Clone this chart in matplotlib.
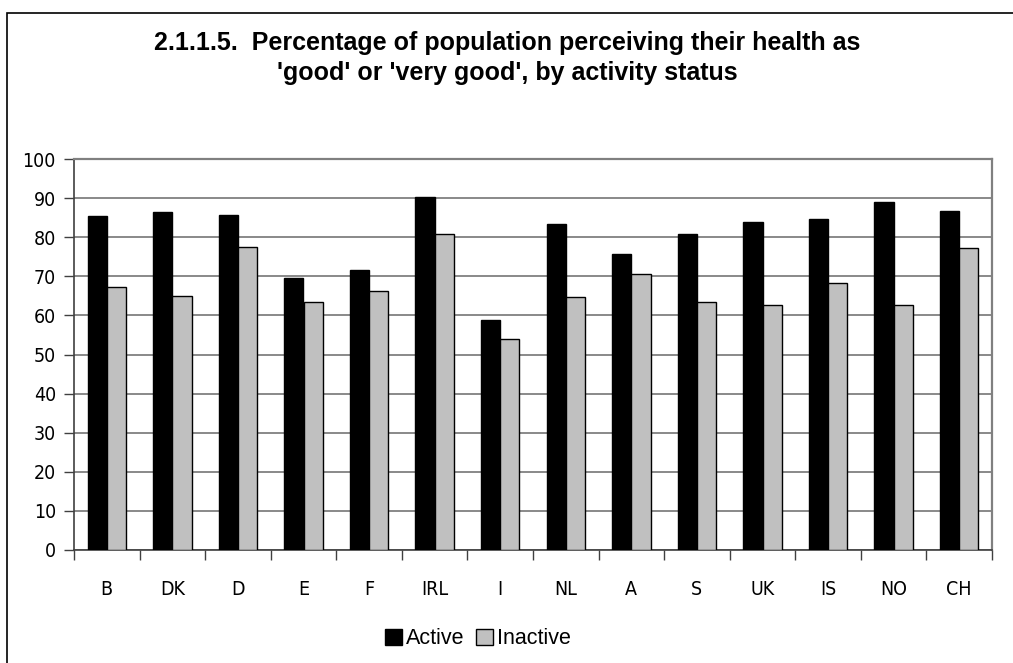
import matplotlib

matplotlib.use("Agg")
import matplotlib.pyplot as plt
import numpy as np
from matplotlib.patches import Rectangle

countries = ["B", "DK", "D", "E", "F", "IRL", "I", "NL", "A", "S", "UK", "IS", "NO", "CH"]
active = [85.4, 86.4, 85.7, 69.7, 71.7, 90.4, 58.8, 83.4, 75.8, 80.9, 84.0, 84.8, 89.1, 86.8]
inactive = [67.2, 65.0, 77.6, 63.5, 66.3, 80.9, 54.0, 64.8, 70.5, 63.4, 62.6, 68.2, 62.8, 77.4]
yticks = list(range(0, 101, 10))

W, H = 1013, 663
fig = plt.figure(figsize=(W / 100, H / 100), dpi=100)
fig.patch.set_facecolor("white")

# outer chart frame (right and bottom edges run off the canvas)
fig.patches.append(Rectangle((7 / W, -0.1), 1.2, (H - 13) / H + 0.1,
                             transform=fig.transFigure, fill=False,
                             edgecolor="black", linewidth=1.2))

ax = fig.add_axes([74 / W, (H - 549.7) / H, (992 - 74) / W, (549.7 - 159.3) / H])

x = np.arange(len(countries))
bw = 0.293
ax.bar(x - bw / 2, active, bw, color="black", edgecolor="black", linewidth=1.0,
       label="Active", zorder=3)
ax.bar(x + bw / 2, inactive, bw, color="#c0c0c0", edgecolor="black", linewidth=1.0,
       label="Inactive", zorder=3)

ax.set_xlim(-0.5, len(countries) - 0.5)
ax.set_ylim(0, 100)
ax.set_yticks(yticks)
ax.yaxis.grid(True, color="#808080", linewidth=1.3, zorder=1)
ax.set_axisbelow(True)

tick_font = dict(family="DejaVu Sans", fontstretch="condensed", fontsize=14)
ax.set_yticklabels([str(v) for v in yticks], **tick_font)
ax.set_xticks(x)
ax.set_xticklabels(countries, **tick_font)
ax.tick_params(axis="x", length=0, pad=22)
# category separators below the axis
ax.set_xticks(np.arange(len(countries) + 1) - 0.5, minor=True)
ax.tick_params(axis="x", which="minor", length=7, width=1, color="#404040", direction="out")
ax.tick_params(axis="y", length=7, width=1, color="#404040", pad=6)

for s in ("top", "right"):
    ax.spines[s].set_color("#808080")
    ax.spines[s].set_linewidth(1.6)
for s in ("left", "bottom"):
    ax.spines[s].set_color("#404040")
    ax.spines[s].set_linewidth(1.2)

title_font = dict(family=["Liberation Sans", "DejaVu Sans"], fontsize=18,
                  fontweight="bold", ha="center", va="baseline")
fig.text(507 / W, 1 - 50 / H, "2.1.1.5.  Percentage of population perceiving their health as",
         **title_font)
fig.text(507 / W, 1 - 80 / H, "'good' or 'very good', by activity status", **title_font)

fig.legend(loc="center", bbox_to_anchor=(478 / W, 1 - 639 / H), ncol=2,
           frameon=False, handlelength=0.8, handleheight=0.75,
           handletextpad=0.2, columnspacing=0.5,
           prop={"family": ["Liberation Sans", "DejaVu Sans"], "size": 15.5})

fig.savefig("out.png", dpi=100, facecolor="white")
